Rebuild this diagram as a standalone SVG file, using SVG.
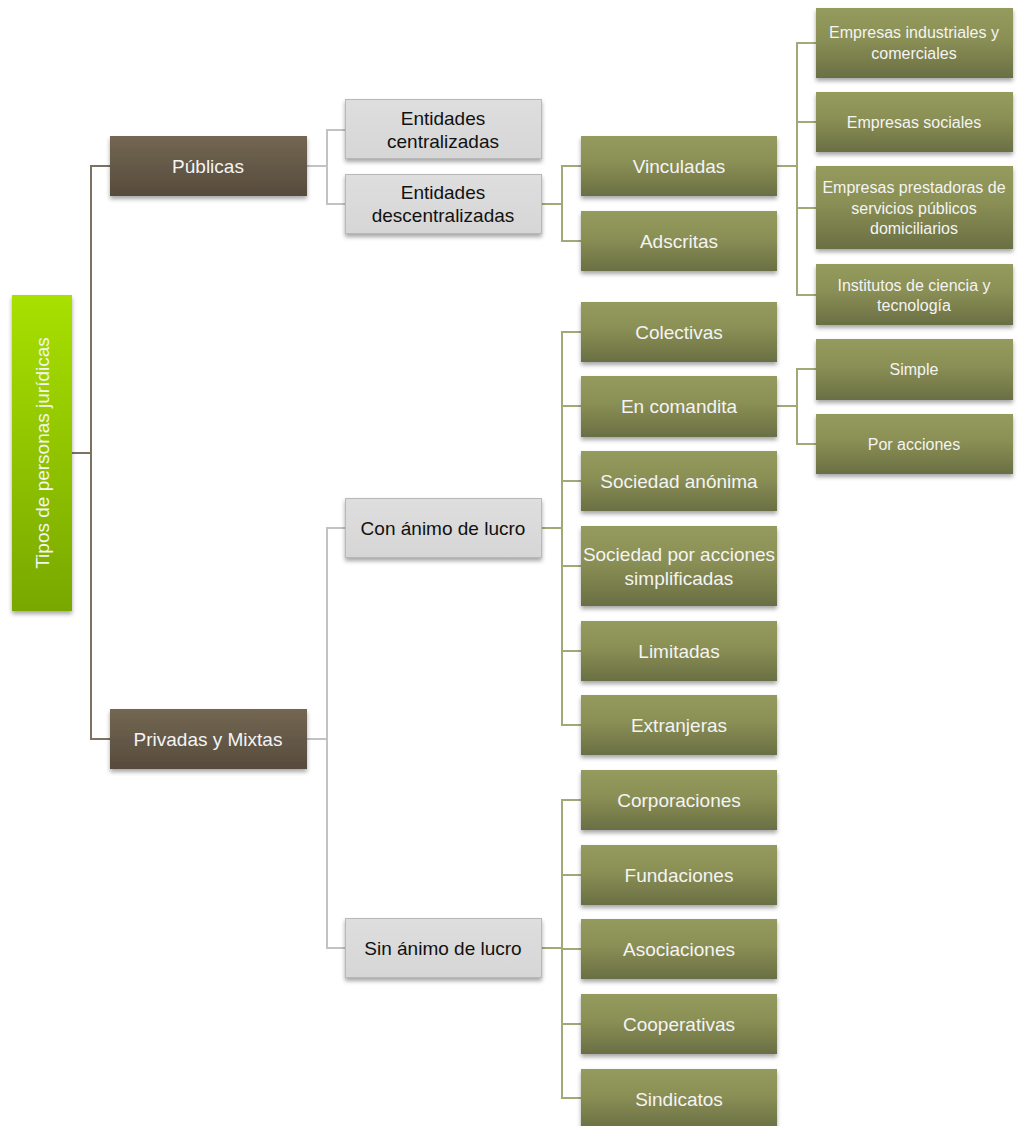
<svg xmlns="http://www.w3.org/2000/svg" width="1017" height="1126" viewBox="0 0 1017 1126">
  <defs>
    <linearGradient id="gRoot" x1="0" y1="0" x2="0" y2="1">
      <stop offset="0" stop-color="#a8e000"/>
      <stop offset="1" stop-color="#78a800"/>
    </linearGradient>
    <linearGradient id="gBrown" x1="0" y1="0" x2="0" y2="1">
      <stop offset="0" stop-color="#736753"/>
      <stop offset="1" stop-color="#564b3c"/>
    </linearGradient>
    <linearGradient id="gGray" x1="0" y1="0" x2="0" y2="1">
      <stop offset="0" stop-color="#dedede"/>
      <stop offset="1" stop-color="#d6d6d6"/>
    </linearGradient>
    <linearGradient id="gOlive" x1="0" y1="0" x2="0" y2="1">
      <stop offset="0" stop-color="#959a5d"/>
      <stop offset="0.45" stop-color="#8a8f55"/>
      <stop offset="1" stop-color="#6a6f44"/>
    </linearGradient>
    <filter id="shadow" x="-10%" y="-20%" width="120%" height="150%">
      <feDropShadow dx="0" dy="3" stdDeviation="2.2" flood-color="#000" flood-opacity="0.35"/>
    </filter>
  </defs>
  <style>
    .root { fill: url(#gRoot); filter: url(#shadow); }
    .brown { fill: url(#gBrown); filter: url(#shadow); }
    .gray { fill: url(#gGray); stroke: #b8b8b8; stroke-width: 1; filter: url(#shadow); }
    .olive { fill: url(#gOlive); filter: url(#shadow); }
    text { font-family: "Liberation Sans", "Open Sans", sans-serif; text-anchor: middle; dominant-baseline: central; }
    .tl { fill: #f4f4f4; font-size: 19px; }
    .td { fill: #111; font-size: 19px; }
    .ts { fill: #f4f4f4; font-size: 16px; }
    .c1 { fill: none; stroke: #7c7262; stroke-width: 2; }
    .c2 { fill: none; stroke: #c2c2c2; stroke-width: 2; }
    .c3 { fill: none; stroke: #a3a878; stroke-width: 2; }
  </style>

  <!-- connectors -->
  <g id="connectors">
    <path class="c1" d="M72 453 H91 M110 166 H91 V739 H110"/>
    <path class="c2" d="M307 166 H327 M345 130 H327 V204 H345"/>
    <path class="c2" d="M307 739 H327 M345 528 H327 V948 H345"/>
    <path class="c3" d="M542 204 H562 M581 166 H562 V241 H581"/>
    <path class="c3" d="M777 166 H797 M816 43 H797 V295 H816 M797 122 H816 M797 208 H816"/>
    <path class="c3" d="M542 528 H562 M581 332 H562 V725 H581 M562 406 H581 M562 481 H581 M562 566 H581 M562 651 H581"/>
    <path class="c3" d="M777 406 H797 M816 369 H797 V444 H816"/>
    <path class="c3" d="M542 948 H562 M581 800 H562 V1098 H581 M562 875 H581 M562 949 H581 M562 1024 H581"/>
  </g>

  <!-- root -->
  <g id="root">
    <rect class="root" x="12" y="295" width="60" height="316"/>
    <text class="tl" font-size="20.5" transform="translate(42 453) rotate(-90)">Tipos de personas jurídicas</text>
  </g>

  <!-- level 1 -->
  <g id="publicas">
    <rect class="brown" x="110" y="136" width="197" height="60"/>
    <text class="tl" x="208" y="166">Públicas</text>
  </g>
  <g id="privadas">
    <rect class="brown" x="110" y="709" width="197" height="60"/>
    <text class="tl" x="208" y="739">Privadas y Mixtas</text>
  </g>

  <!-- level 2 -->
  <g id="centralizadas">
    <rect class="gray" x="345.5" y="99.5" width="196" height="59"/>
    <text class="td" x="443" y="118">Entidades</text>
    <text class="td" x="443" y="141">centralizadas</text>
  </g>
  <g id="descentralizadas">
    <rect class="gray" x="345.5" y="174.5" width="196" height="59"/>
    <text class="td" x="443" y="192">Entidades</text>
    <text class="td" x="443" y="215">descentralizadas</text>
  </g>
  <g id="con-animo">
    <rect class="gray" x="345.5" y="498.5" width="196" height="59"/>
    <text class="td" x="443" y="528">Con ánimo de lucro</text>
  </g>
  <g id="sin-animo">
    <rect class="gray" x="345.5" y="918.5" width="196" height="59"/>
    <text class="td" x="443" y="948">Sin ánimo de lucro</text>
  </g>

  <!-- level 3: descentralizadas -->
  <g id="vinculadas">
    <rect class="olive" x="581" y="136" width="196" height="60"/>
    <text class="tl" x="679" y="166">Vinculadas</text>
  </g>
  <g id="adscritas">
    <rect class="olive" x="581" y="211" width="196" height="60"/>
    <text class="tl" x="679" y="241">Adscritas</text>
  </g>

  <!-- level 3: con animo de lucro -->
  <g id="colectivas">
    <rect class="olive" x="581" y="302" width="196" height="60"/>
    <text class="tl" x="679" y="332">Colectivas</text>
  </g>
  <g id="en-comandita">
    <rect class="olive" x="581" y="376" width="196" height="61"/>
    <text class="tl" x="679" y="406">En comandita</text>
  </g>
  <g id="sociedad-anonima">
    <rect class="olive" x="581" y="451" width="196" height="60"/>
    <text class="tl" x="679" y="481">Sociedad anónima</text>
  </g>
  <g id="sas">
    <rect class="olive" x="581" y="526" width="196" height="80"/>
    <text class="tl" x="679" y="554">Sociedad por acciones</text>
    <text class="tl" x="679" y="578">simplificadas</text>
  </g>
  <g id="limitadas">
    <rect class="olive" x="581" y="621" width="196" height="60"/>
    <text class="tl" x="679" y="651">Limitadas</text>
  </g>
  <g id="extranjeras">
    <rect class="olive" x="581" y="695" width="196" height="60"/>
    <text class="tl" x="679" y="725">Extranjeras</text>
  </g>

  <!-- level 3: sin animo de lucro -->
  <g id="corporaciones">
    <rect class="olive" x="581" y="770" width="196" height="60"/>
    <text class="tl" x="679" y="800">Corporaciones</text>
  </g>
  <g id="fundaciones">
    <rect class="olive" x="581" y="845" width="196" height="60"/>
    <text class="tl" x="679" y="875">Fundaciones</text>
  </g>
  <g id="asociaciones">
    <rect class="olive" x="581" y="919" width="196" height="60"/>
    <text class="tl" x="679" y="949">Asociaciones</text>
  </g>
  <g id="cooperativas">
    <rect class="olive" x="581" y="994" width="196" height="60"/>
    <text class="tl" x="679" y="1024">Cooperativas</text>
  </g>
  <g id="sindicatos">
    <rect class="olive" x="581" y="1069" width="196" height="60"/>
    <text class="tl" x="679" y="1099">Sindicatos</text>
  </g>

  <!-- level 4: vinculadas -->
  <g id="industriales">
    <rect class="olive" x="816" y="8" width="197" height="70"/>
    <text class="ts" x="914" y="32">Empresas industriales y</text>
    <text class="ts" x="914" y="53">comerciales</text>
  </g>
  <g id="sociales">
    <rect class="olive" x="816" y="92" width="197" height="60"/>
    <text class="ts" x="914" y="122">Empresas sociales</text>
  </g>
  <g id="prestadoras">
    <rect class="olive" x="816" y="166" width="197" height="83"/>
    <text class="ts" x="914" y="187">Empresas prestadoras de</text>
    <text class="ts" x="914" y="208">servicios públicos</text>
    <text class="ts" x="914" y="228">domiciliarios</text>
  </g>
  <g id="institutos">
    <rect class="olive" x="816" y="264" width="197" height="61"/>
    <text class="ts" x="914" y="285">Institutos de ciencia y</text>
    <text class="ts" x="914" y="305">tecnología</text>
  </g>

  <!-- level 4: en comandita -->
  <g id="simple">
    <rect class="olive" x="816" y="339" width="197" height="61"/>
    <text class="ts" x="914" y="369">Simple</text>
  </g>
  <g id="por-acciones">
    <rect class="olive" x="816" y="414" width="197" height="60"/>
    <text class="ts" x="914" y="444">Por acciones</text>
  </g>
</svg>
